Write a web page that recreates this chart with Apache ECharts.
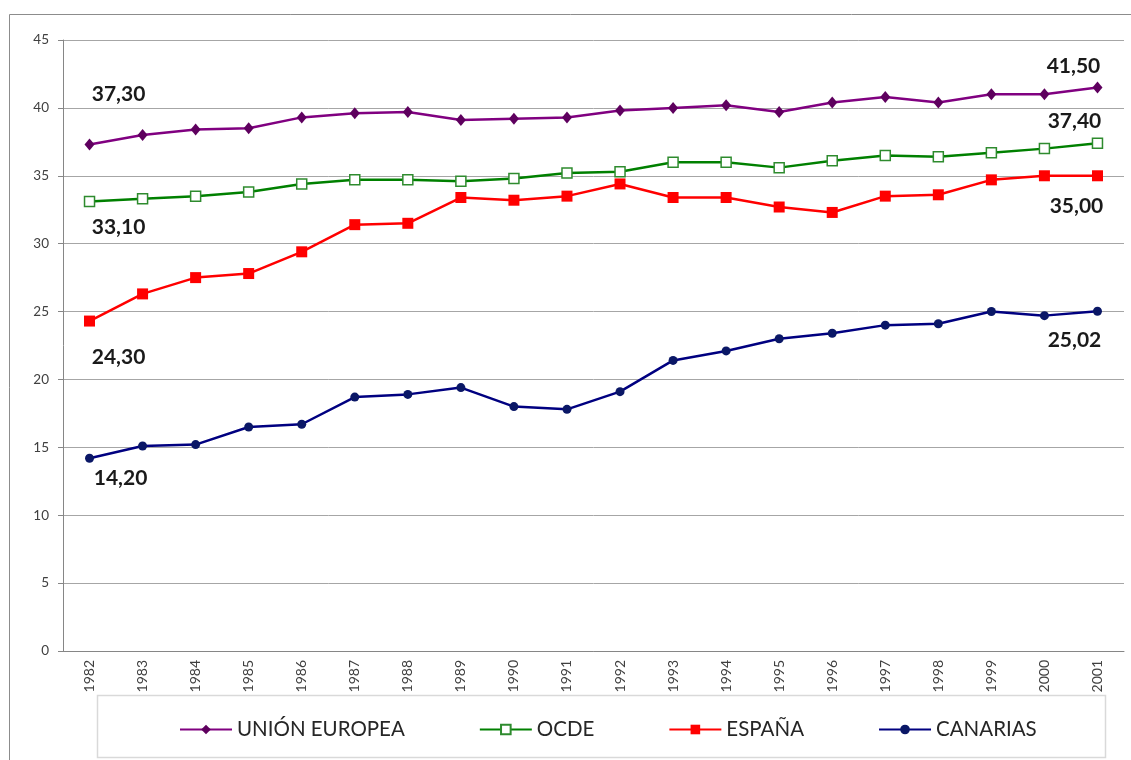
<!DOCTYPE html>
<html>
<head>
<meta charset="utf-8">
<script src="https://cdn.jsdelivr.net/npm/echarts@6/dist/echarts.min.js"></script>
<style>
  html, body { margin: 0; padding: 0; background: #fff; }
  #chart { width: 1131px; height: 760px; }
</style>
</head>
<body>
<div id="chart"></div>
<script>
// años del eje X
const years = ['1982', '1983', '1984', '1985', '1986', '1987', '1988', '1989', '1990', '1991',
  '1992', '1993', '1994', '1995', '1996', '1997', '1998', '1999', '2000', '2001'];

// valores
const unionEuropea = [37.3, 38.0, 38.4, 38.5, 39.3, 39.6, 39.7, 39.1, 39.2, 39.3,
  39.8, 40.0, 40.2, 39.7, 40.4, 40.8, 40.4, 41.0, 41.0, 41.5];
const ocde = [33.1, 33.3, 33.5, 33.8, 34.4, 34.7, 34.7, 34.6, 34.8, 35.2,
  35.3, 36.0, 36.0, 35.6, 36.1, 36.5, 36.4, 36.7, 37.0, 37.4];
const espana = [24.3, 26.3, 27.5, 27.8, 29.4, 31.4, 31.5, 33.4, 33.2, 33.5,
  34.4, 33.4, 33.4, 32.7, 32.3, 33.5, 33.6, 34.7, 35.0, 35.0];
const canarias = [14.2, 15.1, 15.2, 16.5, 16.7, 18.7, 18.9, 19.4, 18.0, 17.8,
  19.1, 21.4, 22.1, 23.0, 23.4, 24.0, 24.1, 25.0, 24.7, 25.02];

const seriesNames = ['UNIÓN EUROPEA', 'OCDE', 'ESPAÑA', 'CANARIAS'];
const yTicks = [0, 5, 10, 15, 20, 25, 30, 35, 40, 45];

const FONT = 'Lato, "Liberation Sans", sans-serif';

// etiqueta solo en el primer y último punto
function withEndLabels(values, firstOffset, lastOffset) {
  return values.map((v, i) => {
    if (i === 0 || i === values.length - 1) {
      return {
        value: v,
        label: {
          show: true,
          position: 'inside',
          offset: i === 0 ? firstOffset : lastOffset,
          formatter: p => p.value.toFixed(2).replace('.', ','),
          fontFamily: FONT,
          fontSize: 21,
          fontWeight: 'bold',
          color: '#1a1a1a'
        }
      };
    }
    return v;
  });
}

const chart = echarts.init(document.getElementById('chart'));

const option = {
  animation: false,
  backgroundColor: '#fff',
  textStyle: { fontFamily: FONT },
  graphic: [
    {
      type: 'rect',
      shape: { x: 9.5, y: 14.5, width: 1200, height: 800 },
      style: { fill: 'none', stroke: '#8c8c8c', lineWidth: 1 },
      silent: true
    },
    {
      type: 'rect',
      shape: { x: 97.5, y: 695.5, width: 1008, height: 62 },
      style: { fill: 'none', stroke: '#d9d9d9', lineWidth: 1.5 },
      silent: true
    }
  ],
  grid: { left: 63, right: 7, top: 40, bottom: 109 },
  legend: {
    data: seriesNames,
    left: 174,
    top: 714,
    itemWidth: 52,
    itemHeight: 12,
    itemGap: 74,
    textStyle: { fontFamily: FONT, fontSize: 20.5, color: '#262626' }
  },
  xAxis: {
    type: 'category',
    data: years,
    boundaryGap: true,
    axisLine: { lineStyle: { color: '#868686', width: 1 } },
    axisTick: { alignWithLabel: true, length: 5, lineStyle: { color: '#868686' } },
    axisLabel: { rotate: 90, margin: 9, fontSize: 14, color: '#404040', fontFamily: FONT, interval: 0 },
    splitLine: { show: false }
  },
  yAxis: {
    type: 'value',
    min: yTicks[0],
    max: yTicks[yTicks.length - 1],
    interval: 5,
    axisLine: { show: true, lineStyle: { color: '#868686', width: 1 } },
    axisTick: { show: true, length: 5, lineStyle: { color: '#868686' } },
    axisLabel: { margin: 14, fontSize: 13.5, color: '#404040', fontFamily: FONT },
    splitLine: { lineStyle: { color: '#a6a6a6', width: 1 } }
  },
  series: [
    {
      name: seriesNames[0],
      type: 'line',
      data: withEndLabels(unionEuropea, [29, -50], [-24, -21]),
      symbol: 'diamond',
      symbolSize: [10, 12],
      lineStyle: { color: '#800080', width: 2.5 },
      itemStyle: { color: '#5e005e' },
      z: 4
    },
    {
      name: seriesNames[1],
      type: 'line',
      data: withEndLabels(ocde, [29, 26], [-23, -22]),
      symbol: 'rect',
      symbolSize: 10,
      lineStyle: { color: '#008000', width: 2.5 },
      itemStyle: { color: '#ffffff', borderColor: '#2e8b2e', borderWidth: 1.5 },
      z: 3
    },
    {
      name: seriesNames[2],
      type: 'line',
      data: withEndLabels(espana, [29, 36], [-21, 30]),
      symbol: 'rect',
      symbolSize: 11,
      lineStyle: { color: '#ff0000', width: 2.5 },
      itemStyle: { color: '#ff0000' },
      z: 2
    },
    {
      name: seriesNames[3],
      type: 'line',
      data: withEndLabels(canarias, [31, 20], [-23, 29]),
      symbol: 'circle',
      symbolSize: 9,
      lineStyle: { color: '#000080', width: 2.5 },
      itemStyle: { color: '#0a1766' },
      z: 1
    }
  ]
};

chart.setOption(option);
</script>
</body>
</html>
